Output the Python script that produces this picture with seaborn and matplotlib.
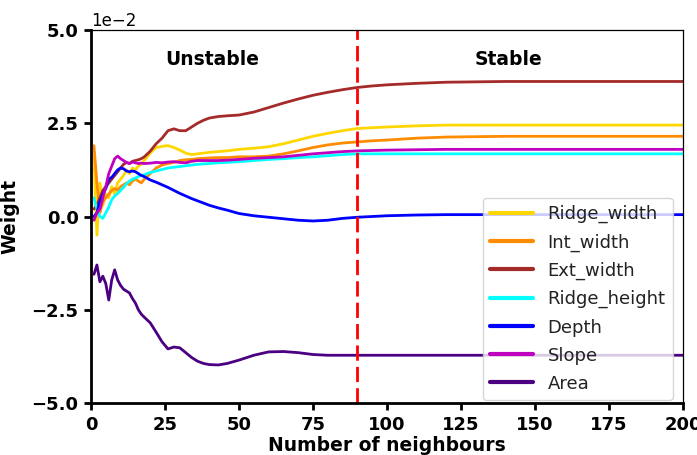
import numpy as np
import pandas as pd
import matplotlib
matplotlib.use("Agg")
import matplotlib.pyplot as plt
import seaborn as sns

# ---- data (weights in units of 1e-2) ----
neighbours = [1, 2, 3, 4, 5, 6, 7, 8, 9, 10, 11, 12, 13, 14, 15, 16, 17, 18,
              20, 22, 24, 26, 28, 30, 32, 34, 36, 38, 40, 43, 46, 50, 55, 60,
              65, 70, 75, 80, 85, 90, 95, 100, 110, 120, 130, 140, 150, 160,
              170, 180, 190, 200]

ridge_width = [1.6, -0.5, 0.9, 0.3, 0.6, 0.5, 0.8, 0.6, 0.9, 1.0, 1.1, 1.25, 1.15, 1.3, 1.25, 1.35, 1.4, 1.5,
               1.7, 1.85, 1.88, 1.9, 1.85, 1.78, 1.7, 1.66, 1.68, 1.7, 1.72, 1.74, 1.76, 1.8, 1.83, 1.87,
               1.95, 2.05, 2.15, 2.23, 2.3, 2.36, 2.38, 2.4, 2.43, 2.45, 2.45, 2.45, 2.45, 2.45,
               2.45, 2.45, 2.45, 2.45]
int_width = [1.9, 0.9, 0.1, 0.4, 0.5, 0.6, 0.7, 0.75, 0.7, 0.8, 0.85, 0.9, 0.85, 0.95, 1.0, 0.95, 0.9, 1.0,
             1.15, 1.3, 1.38, 1.42, 1.45, 1.5, 1.52, 1.53, 1.55, 1.56, 1.57, 1.58, 1.58, 1.6, 1.6, 1.62,
             1.68, 1.76, 1.85, 1.92, 1.97, 2.0, 2.03, 2.05, 2.1, 2.13, 2.14, 2.15, 2.15, 2.15,
             2.15, 2.15, 2.15, 2.15]
ext_width = [0.2, 0.3, 0.5, 0.7, 0.8, 0.9, 1.0, 1.1, 1.2, 1.3, 1.4, 1.45, 1.42, 1.48, 1.5, 1.52, 1.55, 1.6,
             1.75, 1.95, 2.1, 2.3, 2.35, 2.3, 2.3, 2.4, 2.5, 2.58, 2.64, 2.68, 2.7, 2.72, 2.8, 2.92,
             3.04, 3.15, 3.25, 3.33, 3.4, 3.46, 3.5, 3.53, 3.57, 3.6, 3.61, 3.62, 3.62, 3.62,
             3.62, 3.62, 3.62, 3.62]
ridge_height = [0.5, 0.2, 0.0, -0.05, 0.1, 0.25, 0.45, 0.55, 0.62, 0.7, 0.78, 0.88, 0.95, 1.0, 1.03, 1.07, 1.1, 1.12,
                1.18, 1.22, 1.26, 1.3, 1.32, 1.34, 1.36, 1.38, 1.4, 1.41, 1.42, 1.44, 1.45, 1.47, 1.5, 1.53,
                1.55, 1.58, 1.6, 1.63, 1.66, 1.68, 1.68, 1.68, 1.68, 1.68, 1.68, 1.68, 1.68, 1.68,
                1.68, 1.68, 1.68, 1.68]
depth = [0.0, 0.1, 0.4, 0.6, 0.75, 1.0, 1.05, 1.15, 1.25, 1.3, 1.28, 1.22, 1.2, 1.22, 1.2, 1.15, 1.1, 1.07,
         0.98, 0.92, 0.85, 0.78, 0.7, 0.62, 0.55, 0.48, 0.42, 0.36, 0.3, 0.23, 0.17, 0.08, 0.02, -0.02,
         -0.06, -0.1, -0.12, -0.1, -0.05, -0.02, 0.0, 0.02, 0.04, 0.05, 0.05, 0.05, 0.05, 0.05,
         0.05, 0.05, 0.05, 0.05]
slope = [-0.1, 0.1, 0.2, 0.5, 0.8, 1.15, 1.35, 1.55, 1.62, 1.55, 1.5, 1.45, 1.42, 1.46, 1.44, 1.42, 1.43, 1.42,
         1.43, 1.45, 1.44, 1.46, 1.47, 1.45, 1.44, 1.48, 1.5, 1.5, 1.5, 1.5, 1.51, 1.53, 1.56, 1.58,
         1.6, 1.64, 1.68, 1.71, 1.74, 1.76, 1.77, 1.78, 1.79, 1.8, 1.8, 1.8, 1.8, 1.8,
         1.8, 1.8, 1.8, 1.8]
area = [-1.55, -1.3, -1.75, -1.6, -1.8, -2.24, -1.7, -1.43, -1.7, -1.85, -1.95, -2.0, -2.05, -2.2, -2.32, -2.5, -2.62, -2.7,
        -2.85, -3.1, -3.36, -3.55, -3.5, -3.52, -3.65, -3.78, -3.88, -3.94, -3.97, -3.98, -3.94, -3.85, -3.72, -3.63,
        -3.62, -3.65, -3.7, -3.72, -3.72, -3.72, -3.72, -3.72, -3.72, -3.72, -3.72, -3.72, -3.72, -3.72,
        -3.72, -3.72, -3.72, -3.72]

series_names = ["Ridge_width", "Int_width", "Ext_width", "Ridge_height", "Depth", "Slope", "Area"]
series_values = [ridge_width, int_width, ext_width, ridge_height, depth, slope, area]
series_colors = ["gold", "darkorange", "brown", "cyan", "blue", "m", "indigo"]

x_ticks = [0, 25, 50, 75, 100, 125, 150, 175, 200]
y_ticks = [-0.05, -0.025, 0.0, 0.025, 0.05]
threshold = 90
region_labels = ["Unstable", "Stable"]
region_label_x = [41, 141]
region_label_y = 0.042

# ---- plot ----
sns.set_style("ticks")
plt.rcParams["font.family"] = ["DejaVu Sans"]
plt.rcParams.update({"text.color": "black", "axes.labelcolor": "black",
                     "xtick.color": "black", "ytick.color": "black"})

fig = plt.figure(figsize=(6.97, 4.55), dpi=100)
ax = fig.add_axes([91 / 697, 1 - 403 / 455, 592 / 697, 373 / 455])

for name, vals, col in zip(series_names, series_values, series_colors):
    df = pd.DataFrame({"n": neighbours, "w": np.array(vals) * 1e-2})
    sns.lineplot(data=df, x="n", y="w", color=col, label=name, linewidth=2, ax=ax)

ax.axvline(threshold, color="red", linestyle=(0, (5.5, 2.2)), linewidth=2)

for lab, lx in zip(region_labels, region_label_x):
    ax.text(lx, region_label_y, lab, ha="center", va="center",
            fontsize=13.5, fontweight="bold", color="black")

ax.set_xlim(0, 200)
ax.set_ylim(-0.05, 0.05)
ax.set_xticks(x_ticks)
ax.set_yticks(y_ticks)
ax.ticklabel_format(axis="y", style="sci", scilimits=(-2, -2))
ax.yaxis.get_offset_text().set_fontsize(12)
ax.yaxis.get_offset_text().set_color("black")

ax.tick_params(axis="both", which="major", labelsize=13, length=5, width=2, pad=4,
               direction="out", colors="black")
for lbl in ax.get_xticklabels() + ax.get_yticklabels():
    lbl.set_fontweight("bold")

ax.set_xlabel("Number of neighbours", fontsize=13.5, fontweight="bold", labelpad=1.5)
ax.set_ylabel("Weight", fontsize=13.5, fontweight="bold", labelpad=9)

for side in ["left", "bottom"]:
    ax.spines[side].set_linewidth(2)
    ax.spines[side].set_color("black")
for side in ["top", "right"]:
    ax.spines[side].set_linewidth(0.9)
    ax.spines[side].set_color("black")

handles, labels = ax.get_legend_handles_labels()
leg = ax.legend(handles, labels, loc="lower right", bbox_to_anchor=(0.983, 0.008),
                borderaxespad=0, fontsize=13, labelspacing=0.56, handlelength=2.4,
                frameon=True, framealpha=0.8, edgecolor="#cccccc", fancybox=True)
for h in leg.legend_handles:
    h.set_linewidth(3)
for t in leg.get_texts():
    t.set_color("#222222")

fig.savefig("out.png", dpi=100)
